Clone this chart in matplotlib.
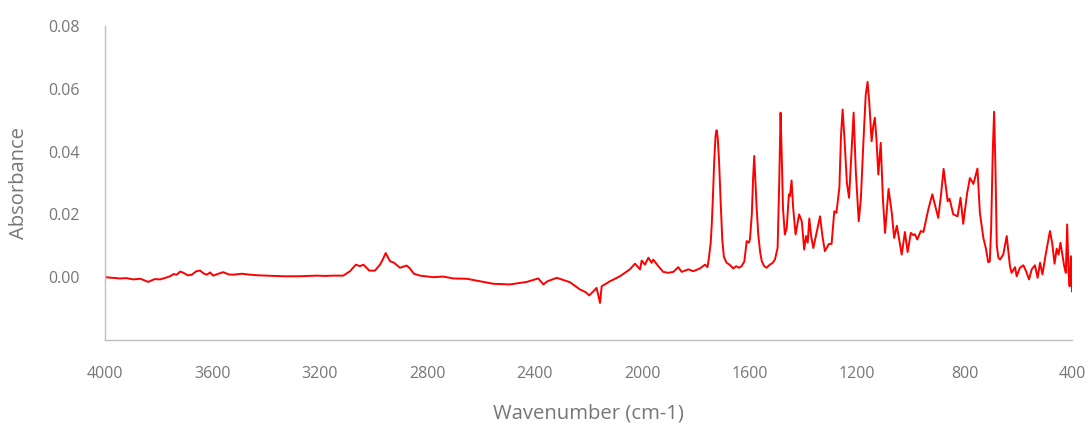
import matplotlib
matplotlib.use("Agg")
import matplotlib.pyplot as plt
from matplotlib.ticker import FixedLocator, FuncFormatter

wavenumber = [
    4000, 3972, 3944, 3920, 3895, 3868, 3839, 3815, 3795, 3775, 3758, 3745, 3733, 3720,
    3708, 3692, 3677, 3660, 3646, 3633, 3621, 3609, 3597, 3578, 3560, 3540, 3522, 3490,
    3460, 3430, 3398, 3366, 3336, 3305, 3274, 3243, 3212, 3180, 3150, 3113, 3088, 3066,
    3051, 3038, 3016, 2995, 2976, 2965, 2955, 2939, 2924, 2902, 2877, 2865, 2850, 2827,
    2778, 2741, 2703, 2653, 2616, 2554, 2492, 2430, 2387, 2368, 2353, 2318, 2269, 2232,
    2210, 2197, 2182, 2170, 2157, 2151, 2120, 2083, 2046, 2027, 2008, 2002, 1990, 1977,
    1965, 1959, 1940, 1922, 1903, 1884, 1866, 1853, 1828, 1810, 1785, 1766, 1757, 1752,
    1745, 1741, 1737, 1732, 1727, 1723, 1719, 1714, 1708, 1702, 1696, 1686, 1675, 1661,
    1650, 1640, 1630, 1620, 1611, 1603, 1599, 1592, 1587, 1583, 1579, 1574, 1568, 1561,
    1555, 1546, 1537, 1525, 1515, 1506, 1496, 1490, 1485, 1481, 1476, 1469, 1462, 1454,
    1450, 1444, 1438, 1429, 1416, 1406, 1397, 1390, 1384, 1378, 1371, 1363, 1351, 1338,
    1329, 1320, 1305, 1295, 1285, 1277, 1266, 1260, 1254, 1247, 1238, 1230, 1222, 1213,
    1205, 1194, 1186, 1177, 1168, 1161, 1155, 1146, 1140, 1134, 1128, 1121, 1112, 1104,
    1096, 1083, 1071, 1062, 1052, 1034, 1022, 1012, 1000, 991, 985, 976, 963, 953,
    935, 920, 910, 898, 888, 878, 870, 863, 856, 842, 826, 815, 805, 790,
    780, 767, 752, 743, 730, 721, 712, 706, 701, 695, 690, 685, 680, 674,
    668, 656, 643, 631, 625, 612, 606, 594, 581, 571, 560, 550, 538, 528,
    519, 510, 498, 482, 474, 465, 457, 450, 443, 435, 429, 423, 418, 413,
    409, 404, 400,
]

absorbance = [
    0.0000, -0.0002, -0.0004, -0.0003, -0.0007, -0.0005, -0.0015, -0.0006, -0.0007, -0.0002, 0.0003, 0.0010, 0.0008, 0.0018,
    0.0014, 0.0006, 0.0008, 0.0019, 0.0021, 0.0012, 0.0008, 0.0015, 0.0005, 0.0011, 0.0016, 0.0009, 0.0008, 0.0011,
    0.0008, 0.0006, 0.0005, 0.0004, 0.0003, 0.0003, 0.0003, 0.0004, 0.0005, 0.0004, 0.0005, 0.0005, 0.0019, 0.0040,
    0.0035, 0.0040, 0.0021, 0.0021, 0.0040, 0.0058, 0.0077, 0.0051, 0.0046, 0.0030, 0.0037, 0.0028, 0.0011, 0.0005,
    0.0000, 0.0002, -0.0004, -0.0005, -0.0011, -0.0021, -0.0023, -0.0015, -0.0004, -0.0023, -0.0013, -0.0002, -0.0016, -0.0039,
    -0.0048, -0.0058, -0.0045, -0.0034, -0.0082, -0.0029, -0.0013, 0.0003, 0.0025, 0.0043, 0.0025, 0.0053, 0.0040, 0.0062,
    0.0046, 0.0056, 0.0035, 0.0017, 0.0014, 0.0017, 0.0032, 0.0017, 0.0025, 0.0019, 0.0028, 0.0040, 0.0032, 0.0060,
    0.0110, 0.0170, 0.0250, 0.0370, 0.0450, 0.0468, 0.0445, 0.0370, 0.0240, 0.0120, 0.0065, 0.0046, 0.0040, 0.0028,
    0.0035, 0.0030, 0.0035, 0.0050, 0.0115, 0.0110, 0.0120, 0.0200, 0.0320, 0.0386, 0.0310, 0.0220, 0.0136, 0.0080,
    0.0051, 0.0035, 0.0030, 0.0040, 0.0045, 0.0056, 0.0093, 0.0300, 0.0524, 0.0400, 0.0220, 0.0136, 0.0157, 0.0264,
    0.0258, 0.0308, 0.0220, 0.0136, 0.0200, 0.0178, 0.0088, 0.0131, 0.0110, 0.0187, 0.0130, 0.0093, 0.0141, 0.0194,
    0.0130, 0.0083, 0.0106, 0.0106, 0.0210, 0.0205, 0.0285, 0.0450, 0.0534, 0.0440, 0.0300, 0.0253, 0.0380, 0.0524,
    0.0340, 0.0178, 0.0250, 0.0423, 0.0580, 0.0622, 0.0560, 0.0433, 0.0480, 0.0508, 0.0440, 0.0327, 0.0428, 0.0250,
    0.0141, 0.0281, 0.0205, 0.0125, 0.0164, 0.0072, 0.0144, 0.0080, 0.0141, 0.0134, 0.0137, 0.0120, 0.0147, 0.0144,
    0.0216, 0.0264, 0.0230, 0.0189, 0.0260, 0.0345, 0.0290, 0.0242, 0.0250, 0.0200, 0.0194, 0.0253, 0.0170, 0.0270,
    0.0316, 0.0297, 0.0346, 0.0205, 0.0125, 0.0093, 0.0048, 0.0050, 0.0157, 0.0400, 0.0527, 0.0350, 0.0100, 0.0062,
    0.0056, 0.0072, 0.0131, 0.0035, 0.0014, 0.0032, 0.0003, 0.0030, 0.0038, 0.0019, -0.0007, 0.0025, 0.0038, -0.0002,
    0.0046, 0.0009, 0.0072, 0.0147, 0.0110, 0.0043, 0.0091, 0.0072, 0.0110, 0.0067, 0.0035, 0.0014, 0.0168, 0.0019,
    -0.0029, 0.0067, -0.0045,
]

x_ticks = [4000, 3600, 3200, 2800, 2400, 2000, 1600, 1200, 800, 400]
y_ticks = [0.00, 0.02, 0.04, 0.06, 0.08]

W, H = 1089, 428
fig = plt.figure(figsize=(W / 100, H / 100), dpi=100)
left, right, top, bottom = 105, 1072, 26, 340
ax = fig.add_axes([left / W, 1 - bottom / H, (right - left) / W, (bottom - top) / H])

ax.plot(wavenumber, absorbance, color="#FF0000", linewidth=1.4)

ax.set_xlim(4000, 400)
ax.set_ylim(-0.02, 0.08)
ax.xaxis.set_major_locator(FixedLocator(x_ticks))
ax.yaxis.set_major_locator(FixedLocator(y_ticks))
ax.yaxis.set_major_formatter(FuncFormatter(lambda v, p: f"{v:.2f}"))
ax.xaxis.set_major_formatter(FuncFormatter(lambda v, p: f"{int(round(v))}"))

font = "Open Sans"
weight = "normal"
tick_color = "#767676"
ax.tick_params(axis="both", length=0, labelsize=11.5, labelcolor=tick_color)
ax.tick_params(axis="y", pad=18)
ax.tick_params(axis="x", pad=19)
for lab in ax.get_xticklabels() + ax.get_yticklabels():
    lab.set_fontfamily(font)
    lab.set_fontweight(weight)

for s in ["top", "right"]:
    ax.spines[s].set_visible(False)
for s in ["left", "bottom"]:
    ax.spines[s].set_color("#BFBFBF")
    ax.spines[s].set_linewidth(1.0)

ax.set_ylabel("Absorbance", fontfamily=font, fontweight=weight, fontsize=14.5, color=tick_color)
ax.set_xlabel("Wavenumber (cm-1)", fontfamily=font, fontweight=weight, fontsize=14.6, color=tick_color)
ax.yaxis.set_label_coords((19 - left) / (right - left), 0.5)
ax.xaxis.set_label_coords(0.5, -(414 - bottom) / (bottom - top))
ax.yaxis.label.set_va("center")
ax.xaxis.label.set_va("center")

fig.savefig("out.png", dpi=100)
